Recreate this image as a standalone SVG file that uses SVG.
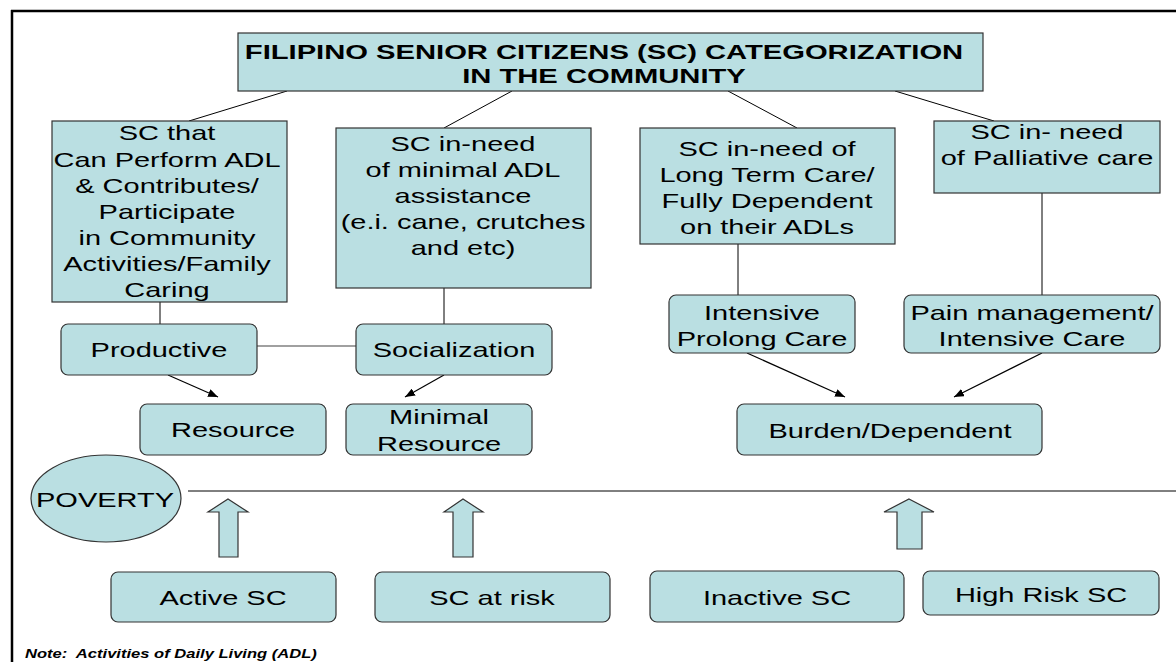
<svg xmlns="http://www.w3.org/2000/svg" width="1176" height="662" viewBox="0 0 1176 662">
<defs>
<marker id="ah" viewBox="0 0 10 8" refX="10" refY="4" markerWidth="10" markerHeight="8" markerUnits="userSpaceOnUse" orient="auto">
<path d="M0,0 L10,4 L0,8 z" fill="#000"/>
</marker>
<style>
.box{fill:#BADFE2;stroke:#333;stroke-width:1.2}
.t{font-family:"Liberation Sans",Arial,sans-serif;font-size:21px;fill:#000;text-anchor:middle}
.tb{font-family:"Liberation Sans",Arial,sans-serif;font-size:21px;font-weight:bold;fill:#000;text-anchor:middle}
.note{font-family:"Liberation Sans",Arial,sans-serif;font-size:12px;font-weight:bold;font-style:italic;fill:#000}
.ln{stroke:#000;stroke-width:1;fill:none}
.arr{stroke:#000;stroke-width:1.2;fill:none;marker-end:url(#ah)}
.blk{fill:#BADFE2;stroke:#333;stroke-width:1.2}
</style>
</defs>
<rect width="1176" height="662" fill="#fff"/>
<g id="frame">
<line x1="11" y1="11" x2="1176" y2="11" stroke="#000" stroke-width="2.5"/>
<line x1="12" y1="10" x2="12" y2="662" stroke="#000" stroke-width="2.5"/>
</g>
<g id="connectors">
<line class="ln" x1="287" y1="91" x2="189" y2="121"/>
<line class="ln" x1="512" y1="91" x2="444" y2="128"/>
<line class="ln" x1="728" y1="91" x2="797" y2="128"/>
<line class="ln" x1="895" y1="91" x2="994" y2="121"/>
<line class="ln" x1="160" y1="302" x2="160" y2="324"/>
<line class="ln" x1="444" y1="288" x2="444" y2="324"/>
<line x1="257" y1="346" x2="356" y2="346" stroke="#808080" stroke-width="1.5"/>
<line class="ln" x1="738" y1="244" x2="738" y2="295"/>
<line class="ln" x1="1042" y1="193" x2="1042" y2="295"/>
<line class="arr" x1="168" y1="375" x2="218" y2="397"/>
<line class="arr" x1="444" y1="375" x2="405" y2="397"/>
<line class="arr" x1="747" y1="353" x2="845" y2="397"/>
<line class="arr" x1="1042" y1="353" x2="954" y2="397"/>
<line class="ln" x1="188" y1="491" x2="1176" y2="491"/>
<polygon class="blk" points="228,499 248,512 238,512 238,557 219,557 219,512 208,512"/>
<polygon class="blk" points="463,499 483,512 473,512 473,557 453,557 453,512 444,512"/>
<polygon class="blk" points="909,499 934,512 922,512 922,549 897,549 897,512 884,512"/>
</g>
<g id="title">
<rect class="box" x="238" y="33" width="745" height="58"/>
<text class="tb" transform="translate(604,59) scale(1.39,1)">FILIPINO SENIOR CITIZENS (SC) CATEGORIZATION</text>
<text class="tb" transform="translate(604,83) scale(1.39,1)">IN THE COMMUNITY</text>
</g>
<g id="box1">
<rect class="box" x="52" y="121" width="235" height="181"/>
<text class="t" transform="translate(167,0) scale(1.38,1)"><tspan x="0" y="140">SC that</tspan><tspan x="0" y="167">Can Perform ADL</tspan><tspan x="0" y="193">&amp; Contributes/</tspan><tspan x="0" y="219">Participate</tspan><tspan x="0" y="245">in Community</tspan><tspan x="0" y="271">Activities/Family</tspan><tspan x="0" y="297">Caring</tspan></text>
</g>
<g id="box2">
<rect class="box" x="336" y="128" width="255" height="160"/>
<text class="t" transform="translate(463,0) scale(1.38,1)"><tspan x="0" y="151">SC in-need</tspan><tspan x="0" y="177">of minimal ADL</tspan><tspan x="0" y="203">assistance</tspan><tspan x="0" y="229">(e.i. cane, crutches</tspan><tspan x="0" y="255">and etc)</tspan></text>
</g>
<g id="box3">
<rect class="box" x="640" y="128" width="255" height="116"/>
<text class="t" transform="translate(767,0) scale(1.38,1)"><tspan x="0" y="156">SC in-need of</tspan><tspan x="0" y="182">Long Term Care/</tspan><tspan x="0" y="208">Fully Dependent</tspan><tspan x="0" y="234">on their ADLs</tspan></text>
</g>
<g id="box4">
<rect class="box" x="934" y="121" width="226" height="72"/>
<text class="t" transform="translate(1047,0) scale(1.38,1)"><tspan x="0" y="139">SC in- need</tspan><tspan x="0" y="165">of Palliative care</tspan></text>
</g>
<g id="productive">
<rect class="box" x="61" y="324" width="196" height="51" rx="7"/>
<text class="t" transform="translate(159,357) scale(1.38,1)">Productive</text>
</g>
<g id="socialization">
<rect class="box" x="356" y="324" width="196" height="51" rx="7"/>
<text class="t" transform="translate(454,357) scale(1.38,1)">Socialization</text>
</g>
<g id="intensive">
<rect class="box" x="669" y="295" width="186" height="58" rx="7"/>
<text class="t" transform="translate(762,0) scale(1.38,1)"><tspan x="0" y="320">Intensive</tspan><tspan x="0" y="346">Prolong Care</tspan></text>
</g>
<g id="pain">
<rect class="box" x="904" y="295" width="256" height="58" rx="7"/>
<text class="t" transform="translate(1032,0) scale(1.38,1)"><tspan x="0" y="320">Pain management/</tspan><tspan x="0" y="346">Intensive Care</tspan></text>
</g>
<g id="resource">
<rect class="box" x="140" y="404" width="186" height="51" rx="7"/>
<text class="t" transform="translate(233,437) scale(1.38,1)">Resource</text>
</g>
<g id="minimal">
<rect class="box" x="346" y="404" width="186" height="51" rx="7"/>
<text class="t" transform="translate(439,0) scale(1.38,1)"><tspan x="0" y="424">Minimal</tspan><tspan x="0" y="451">Resource</tspan></text>
</g>
<g id="burden">
<rect class="box" x="737" y="404" width="305" height="51" rx="7"/>
<text class="t" transform="translate(890,438) scale(1.38,1)">Burden/Dependent</text>
</g>
<g id="poverty">
<ellipse class="box" cx="106" cy="498.5" rx="75" ry="43.5"/>
<text class="t" transform="translate(105,507) scale(1.38,1)">POVERTY</text>
</g>
<g id="active">
<rect class="box" x="111" y="572" width="225" height="50" rx="7"/>
<text class="t" transform="translate(223,605) scale(1.38,1)">Active SC</text>
</g>
<g id="atrisk">
<rect class="box" x="375" y="572" width="235" height="50" rx="7"/>
<text class="t" transform="translate(492,605) scale(1.38,1)">SC at risk</text>
</g>
<g id="inactive">
<rect class="box" x="650" y="571" width="254" height="51" rx="7"/>
<text class="t" transform="translate(777,605) scale(1.38,1)">Inactive SC</text>
</g>
<g id="highrisk">
<rect class="box" x="923" y="571" width="236" height="44" rx="7"/>
<text class="t" transform="translate(1041,602) scale(1.38,1)">High Risk SC</text>
</g>
<g id="note">
<text class="note" transform="translate(25,658) scale(1.38,1)" xml:space="preserve">Note:  Activities of Daily Living (ADL)</text>
</g>
</svg>
